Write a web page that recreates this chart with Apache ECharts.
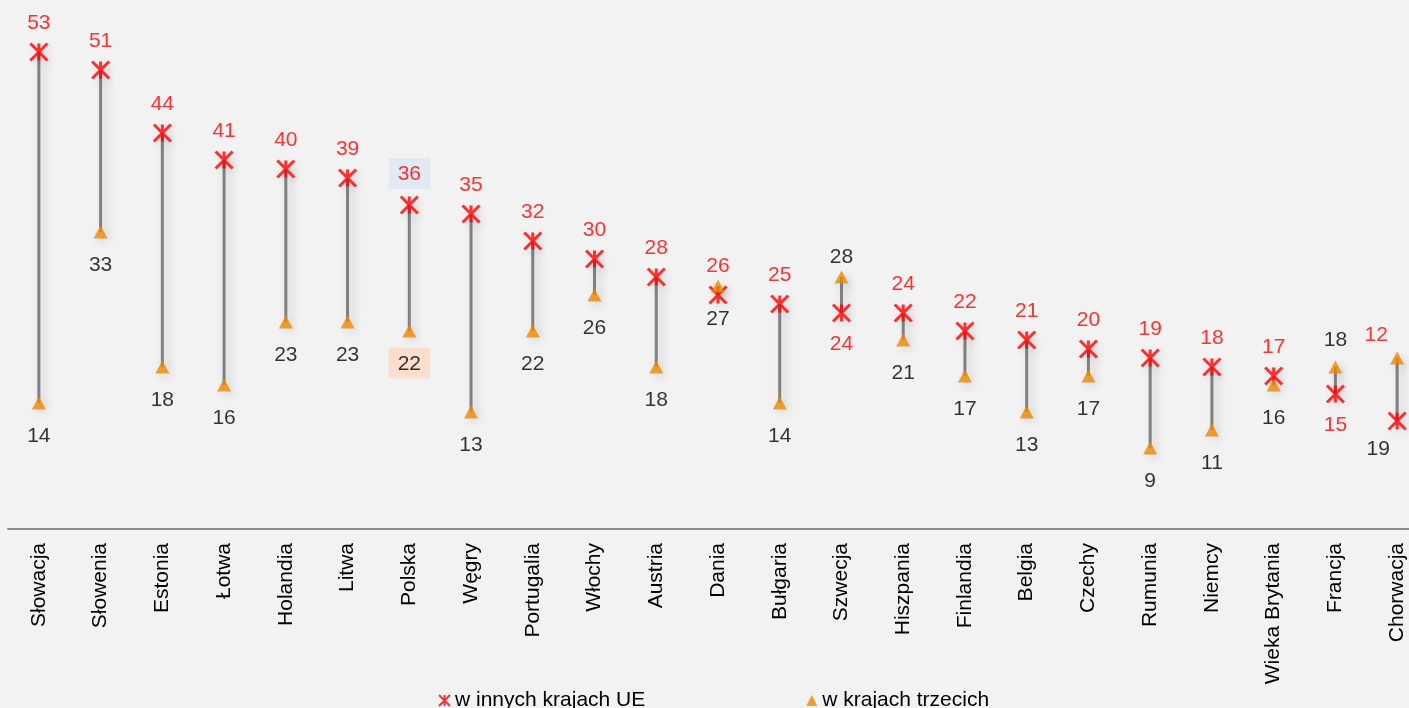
<!DOCTYPE html>
<html>
<head>
<meta charset="utf-8">
<script src="https://cdn.jsdelivr.net/npm/echarts@6/dist/echarts.min.js"></script>
<style>
  html, body { margin: 0; padding: 0; background: #f2f2f2; overflow: hidden; }
  #chart { width: 1428px; height: 708px; }
</style>
</head>
<body>
<div id="chart"></div>
<script>
const countries = ['Słowacja', 'Słowenia', 'Estonia', 'Łotwa', 'Holandia', 'Litwa', 'Polska', 'Węgry',
  'Portugalia', 'Włochy', 'Austria', 'Dania', 'Bułgaria', 'Szwecja', 'Hiszpania', 'Finlandia',
  'Belgia', 'Czechy', 'Rumunia', 'Niemcy', 'Wieka Brytania', 'Francja', 'Chorwacja']
const euValues = [53, 51, 44, 41, 40, 39, 36, 35, 32, 30, 28, 26, 25, 24, 24, 22, 21, 20, 19, 18, 17, 15, 12]
const thirdValues = [14, 33, 18, 16, 23, 23, 22, 13, 22, 26, 18, 27, 14, 28, 21, 17, 13, 17, 9, 11, 16, 18, 19]

const FONT = 'Liberation Sans, Arial, sans-serif'
const starPath = 'path://M0 0L16 16M16 0L0 16M8 0L8 16'

// label tweaks for a few points (Polska highlighted, crossed pairs)
function euData() {
  return euValues.map((v, i) => {
    const item = { value: v }
    const c = countries[i]
    if (c === 'Szwecja' || c === 'Francja') {
      item.label = { position: 'bottom', distance: 11 }
    } else if (c === 'Chorwacja') {
      item.label = { offset: [-21, -57] }
    } else if (c === 'Polska') {
      item.label = { backgroundColor: '#dce6f2', padding: [6, 9, 4, 9], distance: 6 }
    }
    return item
  })
}

function thirdData() {
  return thirdValues.map((v, i) => {
    const item = { value: v }
    const c = countries[i]
    if (c === 'Szwecja') {
      item.label = { position: 'top', distance: 3 }
    } else if (c === 'Francja') {
      item.label = { position: 'top', distance: 10 }
    } else if (c === 'Chorwacja') {
      item.label = { offset: [-19, 58] }
    } else if (c === 'Polska') {
      item.label = { backgroundColor: '#fdd8c3', padding: [6, 9, 4, 9], distance: 10 }
    }
    return item
  })
}

const myChart = echarts.init(document.getElementById('chart'))
const option = {
  backgroundColor: '#f2f2f2',
  animation: false,
  textStyle: { fontFamily: FONT },
  grid: { left: 8, right: 0, top: 7, height: 522 },
  legend: {
    left: 433,
    top: 685,
    itemWidth: 11,
    itemHeight: 11,
    itemGap: 161,
    textStyle: { fontSize: 21, color: '#000', fontFamily: FONT },
    data: [
      { name: 'w innych krajach UE', icon: starPath },
      { name: 'w krajach trzecich', icon: 'triangle' }
    ]
  },
  xAxis: {
    type: 'category',
    data: countries,
    axisLine: { lineStyle: { color: '#8c8c8c', width: 2 } },
    axisTick: { show: false },
    axisLabel: { rotate: 90, interval: 0, margin: 14, fontSize: 21, color: '#000', fontFamily: FONT }
  },
  yAxis: {
    type: 'value',
    min: 0,
    max: 58,
    show: false,
    splitLine: { show: false }
  },
  series: [
    {
      name: 'range',
      type: 'custom',
      silent: true,
      z: 1,
      data: countries.map((c, i) => [i, euValues[i], thirdValues[i]]),
      renderItem(params, api) {
        const p1 = api.coord([api.value(0), api.value(1)])
        const p2 = api.coord([api.value(0), api.value(2)])
        return {
          type: 'line',
          shape: { x1: p1[0], y1: p1[1], x2: p2[0], y2: p2[1] },
          style: {
            stroke: '#808080',
            lineWidth: 3,
            shadowBlur: 10,
            shadowColor: 'rgba(0,0,0,0.18)',
            shadowOffsetX: 4,
            shadowOffsetY: 2
          }
        }
      }
    },
    {
      name: 'w innych krajach UE',
      type: 'scatter',
      z: 3,
      symbol: starPath,
      symbolSize: 17,
      itemStyle: {
        color: '#ff0000',
        borderColor: '#ff0000',
        borderWidth: 3,
        shadowBlur: 8,
        shadowColor: 'rgba(0,0,0,0.12)',
        shadowOffsetX: 3,
        shadowOffsetY: 3
      },
      label: {
        show: true,
        position: 'top',
        distance: 8,
        fontSize: 21,
        color: '#ff0000',
        fontFamily: FONT
      },
      data: euData()
    },
    {
      name: 'w krajach trzecich',
      type: 'scatter',
      z: 4,
      symbol: 'triangle',
      symbolSize: [14, 13],
      itemStyle: {
        color: '#ee8a00',
        shadowBlur: 10,
        shadowColor: 'rgba(0,0,0,0.15)',
        shadowOffsetX: 3,
        shadowOffsetY: 3
      },
      label: {
        show: true,
        position: 'bottom',
        distance: 16,
        fontSize: 21,
        color: '#000',
        fontFamily: FONT
      },
      data: thirdData()
    }
  ]
}
option && myChart.setOption(option)
</script>
</body>
</html>
